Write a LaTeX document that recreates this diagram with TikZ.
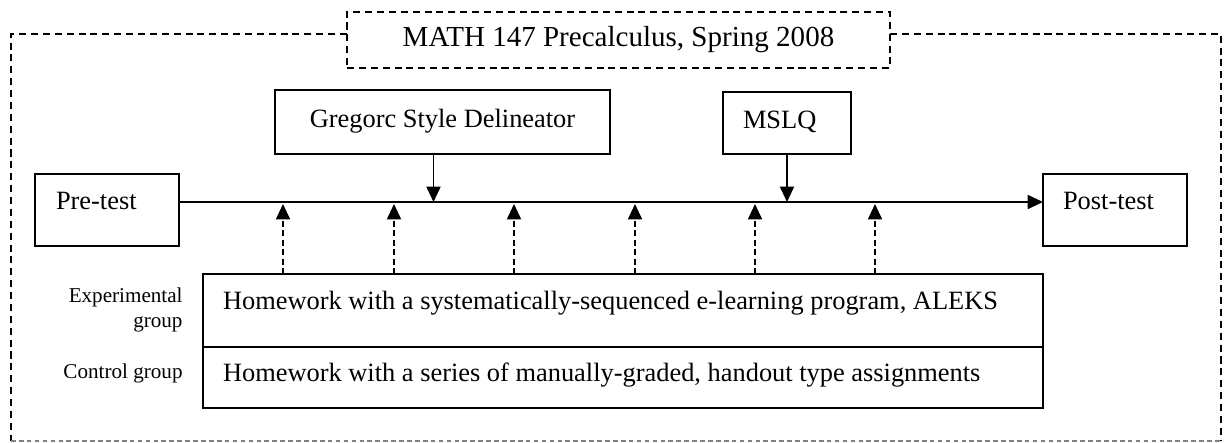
\documentclass[tikz,border=0pt]{standalone}
\usepackage{fontspec}
\setmainfont{Liberation Serif}
\usetikzlibrary{positioning,arrows.meta,calc}
\newlength{\px}\setlength{\px}{0.4545pt}

\begin{document}
\begin{tikzpicture}[x=\px,y=-\px,font=\fontsize{12}{14}\selectfont,
  box/.style={draw,line width=0.8pt,inner ysep=0pt,outer sep=0pt,align=flush left},
  frame/.style={line width=0.8pt,dash pattern=on 3.2pt off 2.2pt},
  tip/.style={-{Triangle[length=7pt,width=6.4pt]},line width=0.8pt},
  grp/.style={font=\fontsize{9.6}{11.3}\selectfont,align=right,inner sep=0pt}]
\useasboundingbox (0,0) rectangle (1224,442);
% ===== course title and dashed frame =====
\node[box,frame,font=\fontsize{13.2}{15}\selectfont,align=center,
  minimum width=543\px,minimum height=56\px] (title) at (618.5,40)
  {MATH 147 Precalculus, Spring 2008};
\coordinate (tl) at (11,34); \coordinate (br) at (1221,441);
\draw[frame] (title.west |- tl) -- (tl) -- (tl |- br);
\draw[frame] (title.east |- tl) -- (br |- tl) -- (br);
\draw[gray,line width=0.5pt,dash pattern=on 2.1pt off 1.5pt] (tl |- br) -- (br);
% ===== tests and instruments =====
\node[box,anchor=north west,text width=102\px,inner xsep=21\px,
  text height=35\px,text depth=37\px] (pre) at (35,174) {Pre-test};
\node[box,anchor=north west,text width=104\px,inner xsep=20\px,
  text height=35\px,text depth=37\px] (post) at (1043,174) {Post-test};
\node[box,anchor=north west,align=center,minimum width=335\px,
  text height=37\px,text depth=27\px] (greg) at (275,90) {Gregorc Style Delineator};
\node[box,anchor=north west,text width=88\px,inner xsep=20\px,
  text height=36\px,text depth=26\px] (mslq) at (723,92) {MSLQ};
% time line
\coordinate (axis) at (0,202);
\draw[tip] (pre.east |- axis) -- (post.west |- axis);
\draw[tip] ([xshift=-9\px]greg.south) -- ([xshift=-9\px]greg.south |- axis);
\draw[tip] (mslq.south) -- (mslq.south |- axis);
% ===== homework treatments (two groups) =====
\node[box,anchor=north west,text width=800\px,inner xsep=20\px,
  text height=35\px,text depth=38\px] (aleks) at (203,274)
  {Homework with a systematically-sequenced e-learning program, ALEKS};
\node[box,anchor=north west,text width=800\px,inner xsep=20\px,
  text height=34\px,text depth=27\px] (manual) at (aleks.south west)
  {Homework with a series of manually-graded, handout type assignments};
\node[grp,anchor=base east] (expgrp) at (183,327) {Experimental\\group};
\node[grp,anchor=base east] (ctlgrp) at (183,378) {Control group};
\foreach \x in {283,394,514,635,755,875}{
  \draw[tip,dash pattern=on 2.7pt off 1.6pt] (\x,0 |- aleks.north) -- (\x,204);}
\end{tikzpicture}
\end{document}
